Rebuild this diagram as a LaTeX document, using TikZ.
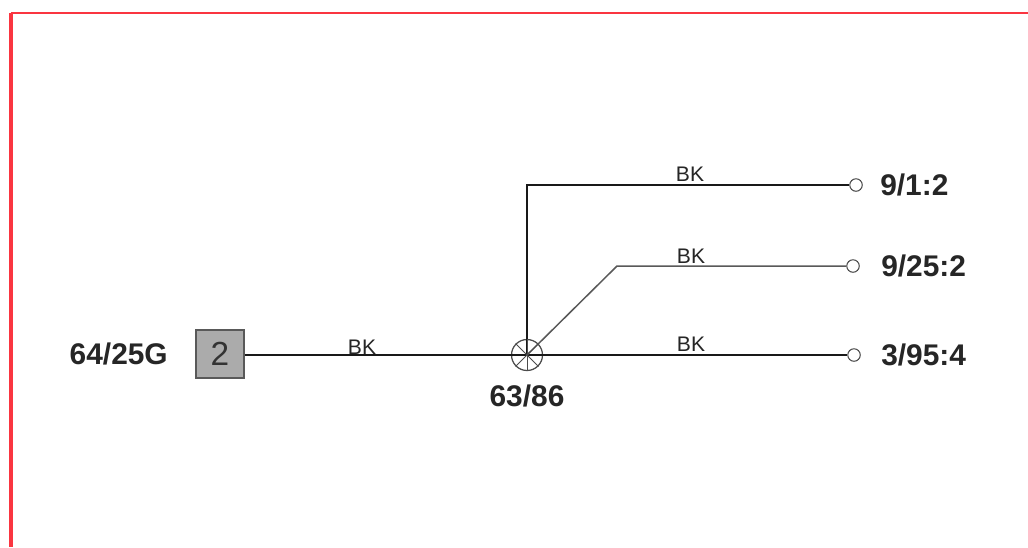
\documentclass[tikz,border=0pt]{standalone}
\usepackage{fontspec}
\setmainfont{Liberation Sans}
\usepackage{tikz}
\usetikzlibrary{arrows, shapes, positioning, calc}

\definecolor{framered}{HTML}{FA3540}
\definecolor{boxgray}{HTML}{ABABAB}

\begin{document}
\begin{tikzpicture}
            [x=0.2mm, y=-0.2mm, semithick,
            wire/.style={draw=black!90, line width=0.38mm},
            thinwire/.style={draw=black!65, line width=0.3mm},
            pin/.style={circle, draw=black!75, fill=white, line width=0.2mm, minimum size=2.5mm, inner sep=0pt},
            splice/.style={circle, draw=black!70, line width=0.25mm, minimum size=6.2mm, inner sep=0pt},
            plug/.style={rectangle, draw=black!65, fill=boxgray, line width=0.3mm, minimum size=9.6mm, inner sep=0pt, text=black!80, font=\fontsize{19}{19}\selectfont},
            netlabel/.style={font=\fontsize{17}{18}\selectfont\bfseries, text=black!85, inner sep=0pt},
            wirelabel/.style={font=\fontsize{12}{12}\selectfont, text=black!85, inner sep=0pt}]

            \useasboundingbox (0,0) rectangle (1028,547);
            \fill[white] (0,0) rectangle (1028,547);

            \coordinate (topleft) at (11,13);
            \coordinate (topright) at (1028,13);
            \coordinate (bottomleft) at (11,547);
            \draw[framered, line width=0.65mm] (topleft) -- (bottomleft);
            \draw[framered, line width=0.3mm] (topleft) -- (topright);

            \node[plug] (plugbox) at (220,354) {2};
            \node[netlabel, left = 5.4mm of plugbox] (plugname) {64/25G};
            \node[splice] (hub) at (527,355) {};
            \node[netlabel] (hubname) at (527,396) {63/86};

            \node[pin] (pina) at (856,185) {};
            \node[pin] (pinb) at (853,266) {};
            \node[pin] (pinc) at (854,355) {};
            \node[netlabel, right = 3.4mm of pina] (namea) {9/1:2};
            \node[netlabel, right = 4.2mm of pinb] (nameb) {9/25:2};
            \node[netlabel, right = 4mm of pinc] (namec) {3/95:4};

            \coordinate (corner) at (527,185);
            \coordinate (bend) at (617,266);

            \draw[wire] (plugbox.east |- hub) -- (hub.center);
            \draw[wire] (hub.center) -- (pinc);
            \draw[wire] (hub.center) -- (corner) -- (pina);
            \draw[thinwire] (hub.center) -- (bend) -- (pinb);

            % spokes of the splice
            \draw[black!70, line width=0.2mm] (hub.45) -- (hub.225);
            \draw[black!70, line width=0.2mm] (hub.135) -- (hub.315);
            \draw[black!70, line width=0.2mm] (hub.north) -- (hub.south);

            \node[wirelabel] (labelmain) at (362,347) {BK};
            \node[wirelabel] (labela) at (690,174) {BK};
            \node[wirelabel] (labelb) at (691,256) {BK};
            \node[wirelabel] (labelc) at (691,344) {BK};

          \end{tikzpicture}
\end{document}
